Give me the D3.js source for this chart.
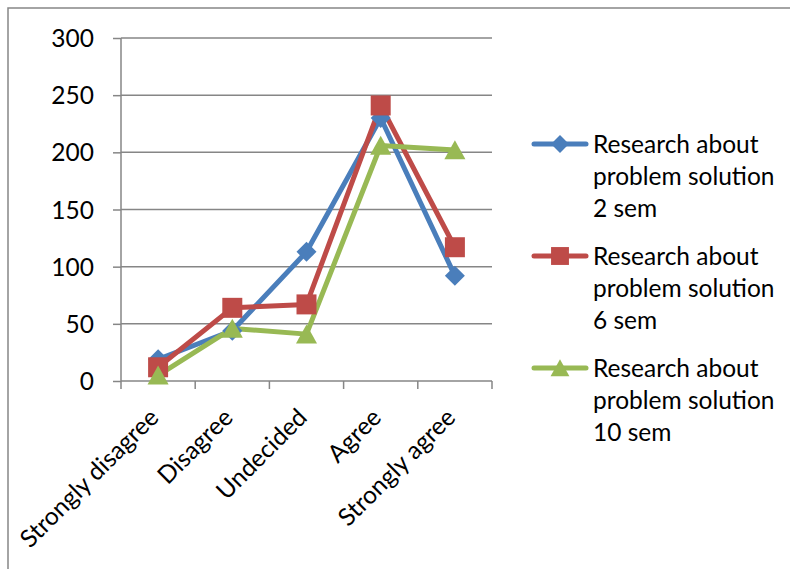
<!DOCTYPE html>
<html><head><meta charset="utf-8">
<script src="https://cdn.jsdelivr.net/npm/d3@7"></script>
<style>body{margin:0;background:#fff}svg{display:block}text{font-family:Lato,"Open Sans",sans-serif;fill:#000}</style>
</head><body>
<svg id="c" width="790" height="569"></svg>
<script>
const categories = ["Strongly disagree","Disagree","Undecided","Agree","Strongly agree"];
const series2 = [19, 44, 113, 230, 92];
const series6 = [12, 64, 67, 241, 117];
const series10 = [5, 46, 41, 206, 202];
const seriesNames = [["Research about","problem solution","2 sem"],["Research about","problem solution","6 sem"],["Research about","problem solution","10 sem"]];
const yTicks = [0,50,100,150,200,250,300];

const colors = ["#4A7EBB","#BE4B48","#98B954"];
// custom marker shapes (r = scale factor)
const diamond = {draw(ctx, s){const h=Math.sqrt(s)/2; ctx.moveTo(0,-h);ctx.lineTo(h,0);ctx.lineTo(0,h);ctx.lineTo(-h,0);ctx.closePath();}};
const square = {draw(ctx, s){const h=Math.sqrt(s)/2; ctx.rect(-h,-h,2*h,2*h);}};
const triangle = {draw(ctx, s){const h=Math.sqrt(s)/2; ctx.moveTo(0,-h);ctx.lineTo(h*1.08,h*0.95);ctx.lineTo(-h*1.08,h*0.95);ctx.closePath();}};
const symbols = [diamond, square, triangle];
const symSizes = [400, 400, 380];
const data = [series2, series6, series10];

const svg = d3.select("#c");
svg.append("rect").attr("x",8).attr("y",8).attr("width",800).attr("height",600)
  .attr("fill","none").attr("stroke","#868686").attr("stroke-width",1.5);

const L=121, R=492, T=38, B=381;
const x = d3.scaleBand().domain(categories).range([L,R]);
const y = d3.scaleLinear().domain([0,300]).range([B,T]);
const fs = 24.5;

// gridlines
svg.append("g").selectAll("line").data(yTicks.filter(d=>d>0)).join("line")
  .attr("x1",L).attr("x2",R).attr("y1",d=>y(d)).attr("y2",d=>y(d))
  .attr("stroke","#868686").attr("stroke-width",1.5);

// y axis
const ya = svg.append("g").attr("transform",`translate(${L},0)`)
  .call(d3.axisLeft(y).tickValues(yTicks).tickSize(8).tickPadding(19));
ya.select(".domain").attr("stroke","#868686").attr("stroke-width",1.5).attr("d",`M0,${T}V${B}`);
ya.selectAll(".tick line").attr("stroke","#868686").attr("stroke-width",1.5);
ya.selectAll(".tick text").attr("font-size",fs).attr("font-family","Lato").attr("fill","#000").attr("dy","0.35em");

// x axis
const xa = svg.append("g").attr("transform",`translate(0,${B})`)
  .call(d3.axisBottom(x).tickSize(0).tickFormat(""));
xa.select(".domain").attr("stroke","#868686").attr("stroke-width",1.5).attr("d",`M${L},0H${R}`);
const edges = categories.map(c=>x(c)).concat([R]);
xa.selectAll("line.edge").data(edges).join("line").attr("class","edge")
  .attr("x1",d=>d).attr("x2",d=>d).attr("y1",0).attr("y2",8)
  .attr("stroke","#868686").attr("stroke-width",1.5);
svg.append("g").selectAll("text").data(categories).join("text")
  .attr("transform",d=>`translate(${x(d)+x.bandwidth()/2+2},${B+38}) rotate(-45)`)
  .attr("text-anchor","end").attr("font-size",fs).text(d=>d);

// lines
const line = d3.line().x((d,i)=>x(categories[i])+x.bandwidth()/2).y(d=>y(d));
data.forEach((s,k)=>{
  svg.append("path").datum(s).attr("d",line).attr("fill","none")
    .attr("stroke",colors[k]).attr("stroke-width",5).attr("stroke-linejoin","round").attr("stroke-linecap","round");
});
data.forEach((s,k)=>{
  svg.append("g").selectAll("path").data(s).join("path")
    .attr("transform",(d,i)=>`translate(${x(categories[i])+x.bandwidth()/2},${y(d)})`)
    .attr("d",d3.symbol().type(symbols[k]).size(symSizes[k])).attr("fill",colors[k]);
});

// legend
const legY = [144,256,368];
seriesNames.forEach((nm,k)=>{
  const g = svg.append("g");
  g.append("line").attr("x1",534).attr("x2",586).attr("y1",legY[k]).attr("y2",legY[k])
    .attr("stroke",colors[k]).attr("stroke-width",5).attr("stroke-linecap","round");
  g.append("path").attr("transform",`translate(560,${legY[k]})`)
    .attr("d",d3.symbol().type(symbols[k]).size(symSizes[k]*0.8)).attr("fill",colors[k]);
  nm.forEach((t,j)=>{
    g.append("text").attr("x",593).attr("y",legY[k]+j*32).attr("dy","0.35em").attr("font-size",fs).text(t);
  });
});
</script>
</body></html>
